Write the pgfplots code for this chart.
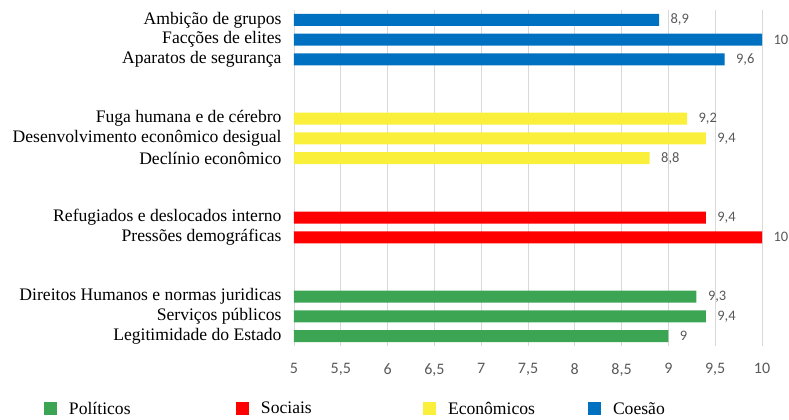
\documentclass[border=0pt]{standalone}
\usepackage{fontspec}
\setmainfont{Liberation Serif}
\newfontfamily\calibri{Carlito}
\usepackage{pgfplots}
\pgfplotsset{compat=1.18}
\definecolor{cgreen}{RGB}{59,165,84}
\definecolor{cred}{RGB}{255,0,0}
\definecolor{cyellow}{RGB}{250,240,60}
\definecolor{cblue}{RGB}{0,112,192}
\definecolor{tickgray}{RGB}{89,89,89}
\definecolor{gridgray}{RGB}{217,217,217}
\pgfplotsset{
  sq/.style={fill=#1, draw=none, bar shift=0pt,
    legend image code/.code={\fill[#1] (0bp,-6.5bp) rectangle (13bp,6.5bp);}},
}
\begin{document}
\begin{tikzpicture}
\begin{axis}[
  name=ax,
  scale only axis, width=468bp, height=336bp,
  xmin=5, xmax=10, ymin=-0.5, ymax=16.5,
  xbar, bar width=12bp, bar shift=0pt,
  xtick={5,5.5,...,10},
  ytick={0,1,2,5,6,9,10,11,14,15,16},
  yticklabels={Legitimidade do Estado, Serviços públicos, Direitos Humanos e normas juridicas,
    Pressões demográficas, Refugiados e deslocados interno,
    Declínio econômico, Desenvolvimento econômico desigual, Fuga humana e de cérebro,
    Aparatos de segurança, Facções de elites, Ambição de grupos},
  /pgf/number format/use comma,
  /pgf/number format/assume math mode=true,
  xmajorgrids, major grid style={gridgray, line width=0.9bp},
  axis line style={draw=none}, major tick length=0pt,
  xticklabel style={font=\calibri\fontsize{16bp}{18bp}\selectfont, text=tickgray, yshift=-14bp},
  yticklabel style={font=\fontsize{17.6bp}{20bp}\selectfont, xshift=-9bp},
  point meta=x,
  nodes near coords,
  every node near coord/.append style={font=\calibri\fontsize{14.5bp}{16bp}\selectfont, text=tickgray, xshift=8bp},
  legend style={draw=none, fill=none, at={(-0.541,-0.187)}, anchor=west,
    legend columns=4, font=\fontsize{17.6bp}{20bp}\selectfont,
    nodes={inner sep=0pt},
    /tikz/every odd column/.append style={column sep=12bp}},
]
% Politicos
\addplot[sq=cgreen] coordinates {(9.0,0) (9.4,1) (9.3,2)};
\addlegendentry{\makebox[167bp][l]{Políticos}}
% Sociais
\addplot[sq=cred] coordinates {(10,5) (9.4,6)};
\addlegendentry{\makebox[162bp][l]{Sociais}}
% Economicos
\addplot[sq=cyellow] coordinates {(8.8,9) (9.4,10) (9.2,11)};
\addlegendentry{\makebox[140bp][l]{Econômicos}}
% Coesao
\addplot[sq=cblue] coordinates {(9.6,14) (10,15) (8.9,16)};
\addlegendentry{Coesão}
\end{axis}
\pgfresetboundingbox
\path ([shift={(-294bp,-73bp)}]ax.south west) rectangle ([shift={(27bp,10bp)}]ax.north east);
\end{tikzpicture}
\end{document}
